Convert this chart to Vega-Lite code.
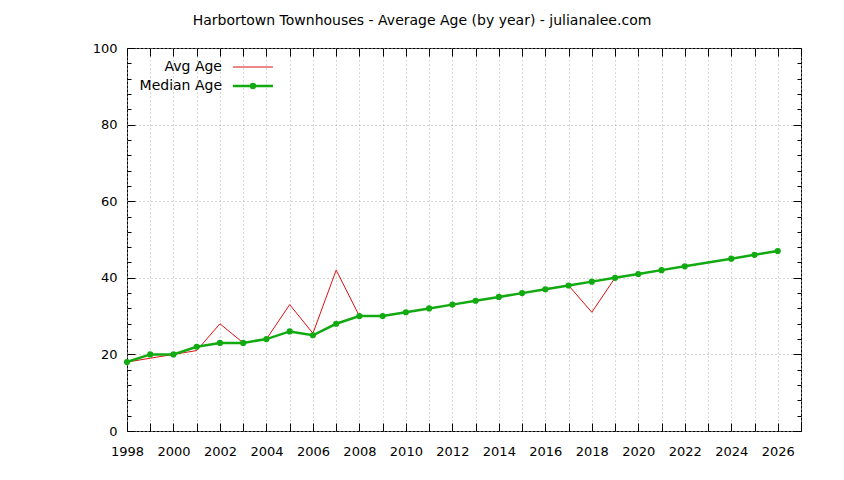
{
  "$schema": "https://vega.github.io/schema/vega-lite/v6.json",
  "width": 674,
  "height": 383,
  "autosize": {"type": "none"},
  "padding": {"left": 127, "top": 48, "right": 43, "bottom": 49},
  "background": "white",
  "title": {
    "text": "Harbortown Townhouses - Average Age (by year) - julianalee.com",
    "font": "DejaVu Sans", "fontSize": 14, "fontWeight": "normal", "color": "black",
    "anchor": "middle", "frame": "group", "baseline": "alphabetic", "offset": 3.5, "dx": -42
  },
  "config": {
    "view": {"stroke": "black", "strokeWidth": 1},
    "axis": {
      "domain": false, "title": null,
      "labelFont": "DejaVu Sans", "labelFontSize": 13, "labelColor": "black",
      "tickColor": "black", "tickWidth": 1,
      "gridColor": "#b0b0b0", "gridDash": [1, 3], "gridWidth": 1
    }
  },
  "data": {
    "values": [
      {"year": 1998, "avg": 18, "median": 18},
      {"year": 1999, "avg": 19, "median": 20},
      {"year": 2000, "avg": 20, "median": 20},
      {"year": 2001, "avg": 21, "median": 22},
      {"year": 2002, "avg": 28, "median": 23},
      {"year": 2003, "avg": 23, "median": 23},
      {"year": 2004, "avg": 24, "median": 24},
      {"year": 2005, "avg": 33, "median": 26},
      {"year": 2006, "avg": 25.5, "median": 25},
      {"year": 2007, "avg": 42, "median": 28},
      {"year": 2008, "avg": 30, "median": 30},
      {"year": 2009, "avg": 30, "median": 30},
      {"year": 2010, "avg": 31, "median": 31},
      {"year": 2011, "avg": 32, "median": 32},
      {"year": 2012, "avg": 33, "median": 33},
      {"year": 2013, "avg": 34, "median": 34},
      {"year": 2014, "avg": 35, "median": 35},
      {"year": 2015, "avg": 36, "median": 36},
      {"year": 2016, "avg": 37, "median": 37},
      {"year": 2017, "avg": 38, "median": 38},
      {"year": 2018, "avg": 31, "median": 39},
      {"year": 2019, "avg": 40, "median": 40},
      {"year": 2020, "avg": 41, "median": 41},
      {"year": 2021, "avg": 42, "median": 42},
      {"year": 2022, "avg": 43, "median": 43},
      {"year": 2024, "avg": 45, "median": 45},
      {"year": 2025, "avg": 46, "median": 46},
      {"year": 2026, "avg": 47, "median": 47}
    ]
  },
  "resolve": {"axis": {"x": "independent", "y": "independent"}},
  "layer": [
    {
      "mark": {"type": "line", "strokeWidth": 1},
      "encoding": {
        "x": {
          "field": "year", "type": "quantitative",
          "scale": {"domain": [1998, 2027], "nice": false, "zero": false},
          "axis": {
            "orient": "bottom", "format": "d", "grid": true, "tickSize": -8, "labelPadding": 22,
            "values": [1998, 1999, 2000, 2001, 2002, 2003, 2004, 2005, 2006, 2007, 2008, 2009, 2010, 2011, 2012, 2013, 2014, 2015, 2016, 2017, 2018, 2019, 2020, 2021, 2022, 2023, 2024, 2025, 2026, 2027],
            "labelExpr": "datum.value % 2 == 0 && datum.value < 2027 ? datum.label : ''",
            "labelFlush": false, "labelOverlap": false
          }
        },
        "y": {
          "field": "avg", "type": "quantitative",
          "scale": {"domain": [0, 100], "nice": false},
          "axis": {"orient": "left", "grid": true, "tickSize": -8, "labelPadding": 18, "values": [0, 20, 40, 60, 80, 100]}
        },
        "color": {
          "datum": "Avg Age",
          "scale": {"domain": ["Avg Age", "Median Age"], "range": ["#dd1111", "#11aa11"]},
          "legend": {
            "orient": "top-left", "offset": 12, "padding": 0, "title": null,
            "labelFont": "DejaVu Sans", "labelFontSize": 14, "labelColor": "black",
            "labelAlign": "right", "labelOffset": -38, "symbolOffset": 107,
            "symbolSize": 100, "rowPadding": 5, "symbolType": "M-4,0H4",
            "encode": {
              "symbols": {
                "update": {
                  "shape": {"signal": "datum.value == 'Median Age' ? 'M-4,0H4M-0.4,0A0.4,0.4,0,1,0,0.4,0A0.4,0.4,0,1,0,-0.4,0' : 'M-4,0H4'"},
                  "strokeWidth": {"signal": "datum.value == 'Median Age' ? 2.5 : 1"},
                  "fill": {"signal": "datum.value == 'Median Age' ? '#11aa11' : 'transparent'"},
                  "fillOpacity": {"value": 1}
                }
              }
            }
          }
        }
      }
    },
    {
      "mark": {"type": "line", "strokeWidth": 2.5},
      "encoding": {
        "x": {
          "field": "year", "type": "quantitative",
          "axis": {
            "orient": "top", "labels": false, "grid": false, "tickSize": -8,
            "values": [1998, 1999, 2000, 2001, 2002, 2003, 2004, 2005, 2006, 2007, 2008, 2009, 2010, 2011, 2012, 2013, 2014, 2015, 2016, 2017, 2018, 2019, 2020, 2021, 2022, 2023, 2024, 2025, 2026, 2027]
          }
        },
        "y": {
          "field": "median", "type": "quantitative",
          "axis": {"orient": "right", "labels": false, "grid": false, "tickSize": -8, "values": [0, 20, 40, 60, 80, 100]}
        },
        "color": {"datum": "Median Age"}
      }
    },
    {
      "mark": {"type": "point", "filled": true, "size": 38, "color": "#11aa11", "opacity": 1},
      "encoding": {
        "x": {"field": "year", "type": "quantitative", "axis": null},
        "y": {
          "field": "median", "type": "quantitative",
          "axis": {"orient": "left", "labels": false, "grid": false, "tickSize": -4,
                   "values": [4, 8, 12, 16, 24, 28, 32, 36, 44, 48, 52, 56, 64, 68, 72, 76, 84, 88, 92, 96]}
        }
      }
    },
    {
      "mark": {"type": "point", "filled": true, "size": 38, "color": "#11aa11", "opacity": 0},
      "encoding": {
        "x": {"field": "year", "type": "quantitative", "axis": null},
        "y": {
          "field": "median", "type": "quantitative",
          "axis": {"orient": "right", "labels": false, "grid": false, "tickSize": -4,
                   "values": [4, 8, 12, 16, 24, 28, 32, 36, 44, 48, 52, 56, 64, 68, 72, 76, 84, 88, 92, 96]}
        }
      }
    }
  ]
}
